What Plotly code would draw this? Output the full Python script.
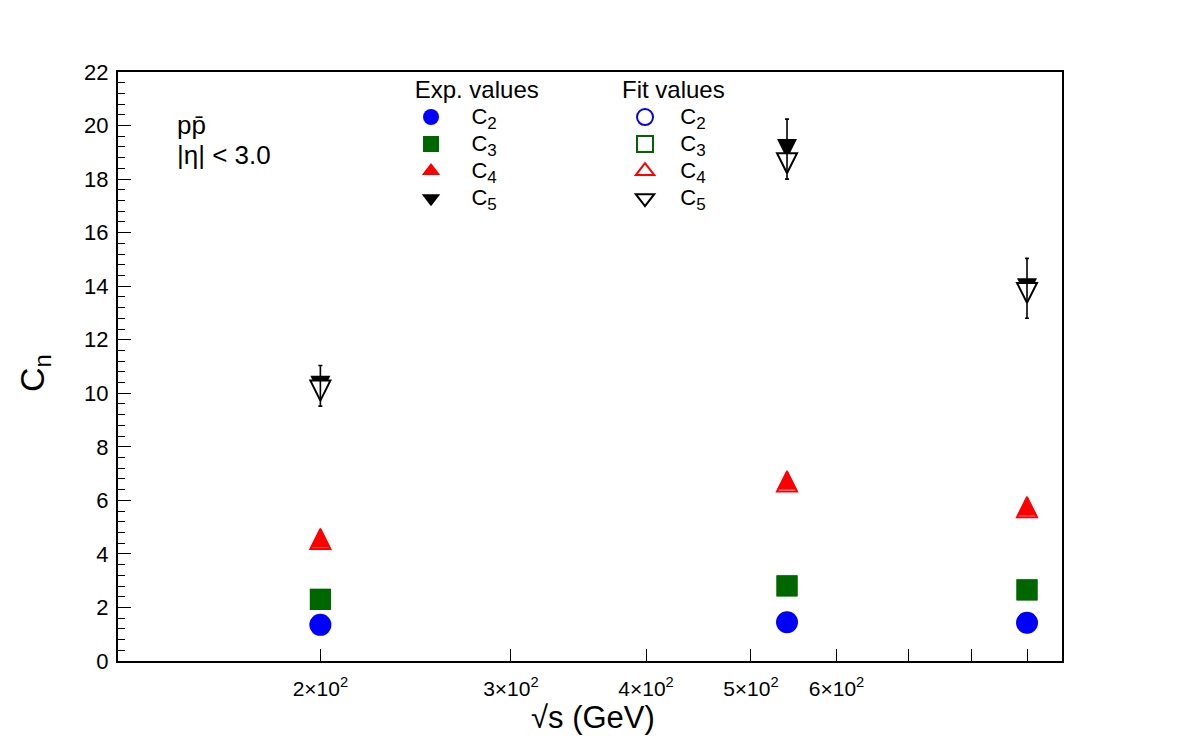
import numpy as np
import plotly.graph_objects as go

# ---- data ----
energy = [200, 540, 900]                 # sqrt(s) in GeV
exp_c2 = [1.35, 1.45, 1.43]
exp_c3 = [2.31, 2.81, 2.66]
exp_c4 = [4.60, 6.77, 5.80]
exp_c5 = [10.28, 19.12, 13.92]
exp_c5_err = [0.76, 1.12, 1.12]
fit_c2 = [1.35, 1.45, 1.43]
fit_c3 = [2.30, 2.80, 2.65]
fit_c4 = [4.56, 6.70, 5.74]
fit_c5 = [10.10, 18.59, 13.75]

series_index = ["2", "3", "4", "5"]
x_tick_vals = [200, 300, 400, 500, 600, 700, 800, 900]
x_tick_text = ["2×10<sup>2</sup>", "3×10<sup>2</sup>", "4×10<sup>2</sup>",
               "5×10<sup>2</sup>", "6×10<sup>2</sup>", "", "", ""]
x_range = [130, 969.6]
y_range = [0, 22]

FONT = "Liberation Sans, Arial, Helvetica, sans-serif"
BLUE, GREEN, RED, BLACK = "#0000ff", "#006600", "#ff0000", "#000000"
colors = [BLUE, GREEN, RED, BLACK]
NB = "\u00a0"


def label(n):
    return ("<span style='font-size:22px'>C<sub><span style='font-size:17px'>"
            + n + "</span></sub></span>")


def tri_marker(color, up, size=20, line_color=None, line_width=0):
    # ROOT-like triangle (box as tall as wide, centred on the point)
    return dict(symbol="arrow-down", angle=180 if up else 0, standoff=size / 2,
                size=size, color=color,
                line=dict(color=line_color or color, width=line_width))


fig = go.Figure()

# plotted points (legend drawn by separate legend-only entries below)
fig.add_trace(go.Scatter(x=energy, y=fit_c2, mode="markers", showlegend=False,
                         marker=dict(symbol="circle", size=19, color="white",
                                     line=dict(color=BLUE, width=2))))
fig.add_trace(go.Scatter(x=energy, y=exp_c2, mode="markers", showlegend=False,
                         marker=dict(symbol="circle", size=22, color=BLUE,
                                     line=dict(width=0))))
fig.add_trace(go.Scatter(x=energy, y=fit_c3, mode="markers", showlegend=False,
                         marker=dict(symbol="square", size=19, color="white",
                                     line=dict(color=GREEN, width=2))))
fig.add_trace(go.Scatter(x=energy, y=exp_c3, mode="markers", showlegend=False,
                         marker=dict(symbol="square", size=21, color=GREEN,
                                     line=dict(width=0))))
fig.add_trace(go.Scatter(x=energy, y=fit_c4, mode="markers", showlegend=False,
                         marker=tri_marker("white", True, 20, RED, 2)))
fig.add_trace(go.Scatter(x=energy, y=exp_c4, mode="markers", showlegend=False,
                         marker=tri_marker(RED, True, 20)))
fig.add_trace(go.Scatter(x=energy, y=exp_c5, mode="markers", showlegend=False,
                         marker=tri_marker(BLACK, False, 20)))
fig.add_trace(go.Scatter(x=energy, y=fit_c5, mode="markers", showlegend=False,
                         marker=tri_marker("white", False, 20, BLACK, 2)))
fig.add_trace(go.Scatter(x=energy, y=exp_c5, mode="markers", showlegend=False,
                         hoverinfo="skip",
                         marker=dict(size=1, color="rgba(0,0,0,0)"),
                         error_y=dict(type="data", array=exp_c5_err, visible=True,
                                      color=BLACK, thickness=1.6, width=2)))

# legend entries
exp_symbols = ["circle", "square", "triangle-up", "triangle-down"]
fit_symbols = ["circle-open", "square-open", "triangle-up-open", "triangle-down-open"]
for n, col, sym in zip(series_index, colors, exp_symbols):
    fig.add_trace(go.Scatter(x=[None], y=[None], mode="markers", name=NB * 3 + label(n),
                             legend="legend",
                             marker=dict(symbol=sym, size=16, color=col)))
for n, col, sym in zip(series_index, colors, fit_symbols):
    fig.add_trace(go.Scatter(x=[None], y=[None], mode="markers", name=NB * 2 + label(n),
                             legend="legend2",
                             marker=dict(symbol=sym, size=16, color=col,
                                         line=dict(color=col, width=2))))

axis_common = dict(showline=True, linecolor=BLACK, linewidth=2, mirror=True,
                   showgrid=False, zeroline=False, ticks="inside",
                   tickcolor=BLACK, tickwidth=1)

fig.update_xaxes(type="log", range=[np.log10(x_range[0]), np.log10(x_range[1])],
                 tickmode="array", tickvals=x_tick_vals, ticktext=x_tick_text,
                 ticklen=12, tickfont=dict(family=FONT, size=21, color=BLACK),
                 ticklabelstandoff=8,
                 **axis_common)
fig.update_yaxes(range=y_range, dtick=2, tick0=0, ticklen=13,
                 tickfont=dict(family=FONT, size=22, color=BLACK),
                 minor=dict(dtick=0.4, ticks="inside", ticklen=7, tickcolor=BLACK,
                            tickwidth=1, showgrid=False),
                 ticklabelstandoff=3,
                 **axis_common)

leg_common = dict(bgcolor="rgba(0,0,0,0)", borderwidth=0, yanchor="top", xanchor="left",
                  y=1.008, itemwidth=40, tracegroupgap=0,
                  font=dict(family=FONT, size=18.5, color=BLACK))
fig.update_layout(
    width=1182, height=736,
    margin=dict(l=118, r=120, t=72, b=75),
    plot_bgcolor="white", paper_bgcolor="white",
    font=dict(family=FONT, color=BLACK),
    showlegend=True,
    legend=dict(x=0.3051, title=dict(text=NB + "Exp. values",
                                     font=dict(family=FONT, size=24, color=BLACK)),
                **leg_common),
    legend2=dict(x=0.5318, title=dict(text="Fit values",
                                      font=dict(family=FONT, size=24, color=BLACK)),
                 **leg_common),
    annotations=[
        dict(text="pp\u0304", x=0.0604, y=0.910, xref="paper", yref="paper",
             xanchor="left", yanchor="middle", showarrow=False,
             font=dict(family=FONT, size=26, color=BLACK)),
        dict(text="|η| < 3.0", x=0.0604, y=0.859, xref="paper", yref="paper",
             xanchor="left", yanchor="middle", showarrow=False,
             font=dict(family=FONT, size=26, color=BLACK)),
        dict(text="C<sub>n</sub>", x=-0.0879, y=0.489, xref="paper", yref="paper",
             xanchor="center", yanchor="middle", showarrow=False, textangle=-90,
             font=dict(family=FONT, size=34, color=BLACK)),
        dict(text="√s (GeV)", x=0.503, y=-0.0960, xref="paper", yref="paper",
             xanchor="center", yanchor="middle", showarrow=False,
             font=dict(family=FONT, size=31, color=BLACK)),
    ],
)

fig.write_html("out.html")
